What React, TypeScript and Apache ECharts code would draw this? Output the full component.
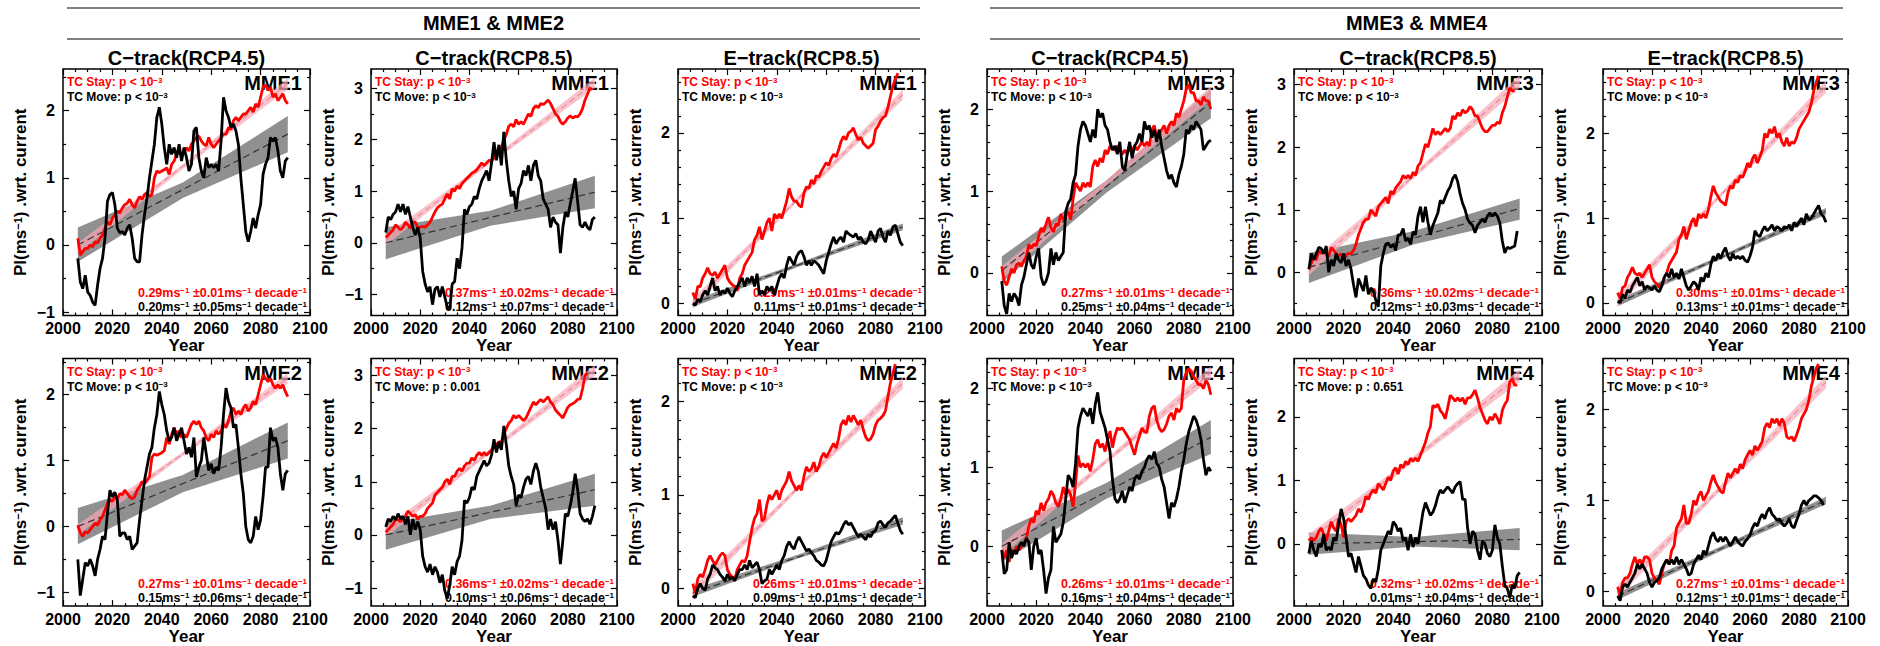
import React, { useEffect, useRef } from "react";
import * as echarts from "echarts";

const FONT = "'Liberation Sans', Arial, Helvetica, sans-serif";
const RED = "#ff0000";

// ---- categories / axes ----
const years = Array.from({ length: 86 }, (_, i) => 2006 + i); // 2006..2091
const trendYears = [2006, 2091];
const bandYears = [2006, 2048.5, 2091];
const groupTitles = ["MME1 & MME2", "MME3 & MME4"];
const columnTitles = ["C−track(RCP4.5)", "C−track(RCP8.5)", "E−track(RCP8.5)"];
const mmeLabels = ["MME1", "MME1", "MME1", "MME3", "MME3", "MME3", "MME2", "MME2", "MME2", "MME4", "MME4", "MME4"];
const yMins = [-1.05, -1.41, -0.14, -0.52, -0.69, -0.15, -1.21, -1.34, -0.19, -0.76, -0.98, -0.16];
const yMaxs = [2.62, 3.37, 2.75, 2.49, 3.25, 2.76, 2.55, 3.32, 2.46, 2.38, 2.92, 2.56];
const yMinorSteps = [0.5, 0.5, 0.2, 0.2, 0.5, 0.2, 0.5, 0.5, 0.2, 0.2, 0.5, 0.2];

// ---- significance / trend texts ----
const movePTexts = ["<", "<", "<", "<", "<", "<", "<", ": 0.001", "<", "<", ": 0.651", "<"];
const stayRates = ["0.29", "0.37", "0.29", "0.27", "0.36", "0.30", "0.27", "0.36", "0.26", "0.26", "0.32", "0.27"];
const stayErrs = ["0.01", "0.02", "0.01", "0.01", "0.02", "0.01", "0.01", "0.02", "0.01", "0.01", "0.02", "0.01"];
const moveRates = ["0.20", "0.12", "0.11", "0.25", "0.12", "0.13", "0.15", "0.10", "0.09", "0.16", "0.01", "0.12"];
const moveErrs = ["0.05", "0.07", "0.01", "0.04", "0.03", "0.01", "0.06", "0.06", "0.01", "0.04", "0.04", "0.01"];

// ---- series values (yearly from 2006) ----
const mme1C45Stay = [
  0.1, -0.15, -0.1, -0.05, -0.05, 0.0, -0.03, 0.05, 0.03, 0.1,
  0.15, 0.25, 0.35, 0.3, 0.4, 0.45, 0.5, 0.48, 0.55, 0.6,
  0.62, 0.68, 0.6, 0.55, 0.65, 0.72, 0.68, 0.75, 0.78, 0.72,
  0.75, 1.0, 1.1, 1.08, 1.1, 1.12, 1.15, 1.05, 1.2, 1.25,
  1.35, 1.4, 1.32, 1.38, 1.45, 1.4, 1.5, 1.55, 1.6, 1.62,
  1.55, 1.5, 1.48, 1.6, 1.5, 1.45, 1.5, 1.55, 1.6, 1.65,
  1.65, 1.75, 1.72, 1.85, 1.9, 1.85, 1.9, 1.95, 1.95, 2.0,
  2.05, 1.98, 2.1, 2.05, 2.2, 2.35, 2.38, 2.3, 2.35, 2.2,
  2.25, 2.15, 2.2, 2.25, 2.15, 2.1,
];
const mme1C45Move = [
  -0.2, -0.55, -0.65, -0.45, -0.7, -0.75, -0.85, -0.9, -0.6, -0.35,
  -0.2, 0.1, 0.65, 0.75, 0.78, 0.6, 0.25, 0.18, 0.2, 0.15,
  0.25, 0.3, 0.1, -0.2, -0.25, -0.25, 0.15, 0.45, 0.7, 1.0,
  1.25, 1.5, 1.9, 2.05, 1.8, 1.45, 1.2, 1.5, 1.35, 1.45,
  1.3, 1.5, 1.25, 1.45, 1.3, 1.1, 1.2, 1.7, 1.75, 1.3,
  1.1, 1.0, 1.3, 1.15, 1.2, 1.15, 1.2, 1.1, 1.55, 2.2,
  2.0, 1.9, 1.75, 1.8, 1.7, 1.5, 1.0, 0.6, 0.2, 0.05,
  0.2, 0.4, 0.25, 0.45, 0.6, 1.05, 1.2, 1.3, 1.6, 1.55,
  1.6, 1.4, 1.1, 1.0, 1.25, 1.3,
];
const mme1C85Stay = [
  0.1, 0.15, 0.2, 0.25, 0.35, 0.3, 0.25, 0.3, 0.4, 0.35,
  0.28, 0.4, 0.4, 0.3, 0.3, 0.32, 0.3, 0.35, 0.4, 0.5,
  0.6, 0.68, 0.72, 0.75, 0.85, 0.95, 0.85, 1.05, 1.0, 1.1,
  1.05, 1.15, 1.2, 1.25, 1.3, 1.35, 1.38, 1.42, 1.48, 1.55,
  1.5, 1.55, 1.6, 1.58, 1.65, 1.74, 1.8, 1.85, 2.0, 2.1,
  2.26, 2.3, 2.25, 2.39, 2.3, 2.35, 2.3, 2.4, 2.5, 2.45,
  2.6, 2.66, 2.62, 2.7, 2.68, 2.72, 2.77, 2.7, 2.6, 2.5,
  2.45, 2.35, 2.3, 2.35, 2.42, 2.46, 2.42, 2.45, 2.44, 2.5,
  2.6, 2.77, 2.88, 3.0, 2.97,
];
const mme1C85Move = [
  0.2, 0.5, 0.45, 0.55, 0.6, 0.75, 0.6, 0.75, 0.55, 0.7,
  0.5, 0.3, 0.15, 0.3, 0.1, -0.55, -0.8, -0.95, -0.85, -1.2,
  -0.9, -0.85, -1.05, -0.85, -1.05, -1.25, -1.3, -0.8, -0.75, -0.3,
  -0.5, -0.1, 0.65, 0.55, 0.7, 0.75, 0.9, 0.85, 1.05, 1.2,
  1.3, 1.4, 1.2, 1.55, 1.95, 1.6, 1.9, 1.5, 2.15, 1.6,
  1.2, 0.9, 1.0, 0.65, 1.05, 1.15, 1.4, 1.3, 1.5, 1.2,
  1.5, 1.6, 1.3, 1.2, 0.85, 0.75, 0.65, 0.3, 0.5, 0.4,
  0.35, -0.2, 0.3, 0.6, 0.5, 0.75, 1.0, 1.25, 0.8, 0.35,
  0.3, 0.4, 0.3, 0.25, 0.45, 0.5,
];
const mme1E85Stay = [
  0.13, 0.05, 0.2, 0.2, 0.3, 0.35, 0.42, 0.35, 0.33, 0.37,
  0.3, 0.35, 0.4, 0.45, 0.3, 0.25, 0.22, 0.2, 0.15, 0.3,
  0.35, 0.45, 0.5, 0.55, 0.6, 0.75, 0.8, 0.9, 0.75, 0.85,
  0.95, 1.0, 0.85, 1.05, 1.0, 1.05, 1.0, 1.1, 1.2, 1.35,
  1.25, 1.2, 1.2, 1.15, 1.13, 1.3, 1.37, 1.35, 1.45, 1.4,
  1.5, 1.48, 1.55, 1.6, 1.65, 1.62, 1.7, 1.75, 1.72, 1.8,
  1.9, 1.96, 1.92, 2.0, 2.02, 2.06, 1.98, 1.92, 1.95, 1.88,
  1.85, 1.82, 1.85, 1.88, 2.04, 2.08, 2.14, 2.18, 2.2, 2.3,
  2.43, 2.55, 2.63, 2.7,
];
const mme1E85Move = [
  0.0, -0.02, 0.05, 0.02, 0.1, 0.15, 0.1, 0.2, 0.3, 0.15,
  0.2, 0.1, 0.15, 0.12, 0.18, 0.12, 0.08, 0.15, 0.2, 0.25,
  0.3, 0.2, 0.3, 0.25, 0.32, 0.2, 0.35, 0.1, 0.15, 0.1,
  0.2, 0.15, 0.2, 0.1, 0.2, 0.3, 0.35, 0.3, 0.45, 0.55,
  0.5, 0.45, 0.55, 0.6, 0.62, 0.55, 0.45, 0.5, 0.45, 0.5,
  0.48, 0.45, 0.4, 0.35, 0.5, 0.6, 0.7, 0.78, 0.7, 0.75,
  0.78, 0.72, 0.85, 0.82, 0.8, 0.78, 0.82, 0.75, 0.78, 0.72,
  0.7, 0.75, 0.85, 0.78, 0.72, 0.85, 0.88, 0.78, 0.72, 0.85,
  0.8, 0.9, 0.92, 0.82, 0.72, 0.68,
];
const mme3C45Stay = [
  0.08, -0.1, -0.15, -0.05, 0.05, 0.0, 0.1, 0.12, 0.08, 0.15,
  0.2, 0.35, 0.3, 0.35, 0.33, 0.45, 0.55, 0.5, 0.6, 0.68,
  0.55, 0.5, 0.6, 0.58, 0.72, 0.65, 0.7, 0.75, 0.65, 0.9,
  1.1, 1.05, 1.0, 1.1, 1.05, 1.1, 1.05, 1.3, 1.38, 1.3,
  1.4, 1.35, 1.5, 1.45, 1.55, 1.52, 1.5, 1.55, 1.5, 1.45,
  1.5, 1.45, 1.55, 1.5, 1.55, 1.5, 1.55, 1.6, 1.55, 1.6,
  1.55, 1.75, 1.8, 1.65, 1.7, 1.75, 1.8, 1.7, 1.8, 1.85,
  1.8, 1.95, 1.9, 2.0, 2.1, 2.25, 2.3, 2.2, 2.2, 2.1,
  2.1, 2.05, 2.15, 2.1, 2.1, 2.0,
];
const mme3C45Move = [
  -0.1, -0.4, -0.5, -0.25, -0.35, -0.25, -0.3, -0.4, -0.15, -0.05,
  0.1, 0.25, 0.1, 0.05, 0.2, 0.3, -0.05, -0.15, -0.1, 0.0,
  0.3, 0.1, 0.25, 0.15, 0.2, 0.25, 0.75, 0.85, 0.9, 1.1,
  1.2, 1.55, 1.75, 1.85, 1.8, 1.7, 1.6, 1.75, 1.65, 2.0,
  1.9, 1.95, 1.8, 1.75, 1.6, 1.5, 1.55, 1.45, 1.6, 1.3,
  1.25, 1.45, 1.6, 1.4, 1.55, 1.6, 1.7, 1.6, 1.85, 1.75,
  1.8, 1.65, 1.75, 1.6, 1.75, 1.55, 1.4, 1.25, 1.15, 1.2,
  1.1, 1.05, 1.2, 1.3, 1.45, 1.75, 1.7, 1.8, 1.75, 1.85,
  1.8, 1.75, 1.5, 1.55, 1.6, 1.62,
];
const mme3C85Stay = [
  0.05, 0.15, 0.25, 0.2, 0.35, 0.3, 0.35, 0.3, 0.25, 0.4,
  0.35, 0.3, 0.25, 0.3, 0.2, 0.28, 0.3, 0.3, 0.35, 0.45,
  0.6, 0.7, 0.8, 0.85, 0.85, 1.0, 0.95, 0.9, 1.05, 1.1,
  1.15, 1.2, 1.1, 1.3, 1.25, 1.35, 1.4, 1.45, 1.55, 1.5,
  1.55, 1.5, 1.6, 1.55, 1.7, 1.75, 1.9, 2.05, 2.0, 2.15,
  2.3, 2.2, 2.25, 2.2, 2.25, 2.3, 2.25, 2.3, 2.5, 2.45,
  2.55, 2.5, 2.6, 2.55, 2.58, 2.65, 2.6, 2.5, 2.5, 2.4,
  2.3, 2.25, 2.25, 2.3, 2.35, 2.35, 2.4, 2.38, 2.55, 2.65,
  2.8, 2.95, 2.9, 2.9,
];
const mme3C85Move = [
  0.05, 0.3, 0.2, 0.3, 0.4, 0.38, 0.3, 0.42, 0.0, 0.2,
  0.1, 0.3, 0.2, 0.15, 0.3, 0.1, 0.2, 0.05, -0.2, -0.4,
  -0.1, -0.2, -0.3, -0.05, -0.35, -0.25, -0.3, -0.45, -0.55, 0.1,
  0.3, 0.45, 0.47, 0.4, 0.45, 0.35, 0.6, 0.6, 0.7, 0.5,
  0.55, 0.45, 0.65, 0.6, 0.9, 1.05, 0.8, 1.05, 0.8, 0.6,
  0.75, 0.85, 0.95, 1.15, 1.1, 1.2, 1.3, 1.37, 1.5, 1.56,
  1.45, 1.25, 1.1, 1.0, 0.85, 0.79, 0.75, 0.63, 0.75, 0.8,
  0.85, 0.8, 0.9, 0.95, 0.9, 0.95, 0.9, 0.79, 0.5, 0.31,
  0.4, 0.38, 0.4, 0.42, 0.66,
];
const mme3E85Stay = [
  0.12, 0.05, 0.18, 0.2, 0.3, 0.35, 0.42, 0.35, 0.33, 0.35,
  0.3, 0.35, 0.4, 0.45, 0.3, 0.25, 0.22, 0.18, 0.2, 0.3,
  0.35, 0.45, 0.5, 0.55, 0.6, 0.75, 0.8, 0.9, 0.75, 0.85,
  0.95, 1.0, 0.9, 1.05, 1.0, 1.05, 1.0, 1.1, 1.25, 1.38,
  1.3, 1.25, 1.2, 1.18, 1.15, 1.3, 1.38, 1.35, 1.45, 1.42,
  1.5, 1.48, 1.55, 1.65, 1.6, 1.7, 1.75, 1.65, 1.72, 1.8,
  2.0, 1.95, 2.05, 2.0, 2.08, 1.95, 2.0, 1.9, 1.85, 1.95,
  1.85, 1.9, 1.88, 1.95, 2.05, 2.1, 2.15, 2.2, 2.25, 2.35,
  2.5, 2.6, 2.68,
];
const mme3E85Move = [
  0.02, 0.0, 0.1, 0.05, 0.15, 0.12, 0.2, 0.25, 0.3, 0.2,
  0.25, 0.15, 0.2, 0.18, 0.15, 0.2, 0.15, 0.13, 0.2, 0.3,
  0.35, 0.3, 0.4, 0.3, 0.35, 0.28, 0.4, 0.3, 0.2, 0.15,
  0.2, 0.25, 0.22, 0.15, 0.3, 0.25, 0.35, 0.3, 0.45, 0.55,
  0.5, 0.58, 0.52, 0.6, 0.65, 0.55, 0.5, 0.58, 0.52, 0.55,
  0.52, 0.55, 0.5, 0.48, 0.55, 0.65, 0.85, 0.8, 0.78, 0.85,
  0.9, 0.85, 0.88, 0.92, 0.85, 0.9, 0.88, 0.85, 0.9, 0.88,
  0.92, 0.85, 0.95, 0.9, 0.95, 1.0, 0.92, 1.05, 0.98, 1.0,
  1.05, 1.1, 1.15, 1.05, 1.02, 0.95,
];
const mme2C45Stay = [
  0.02, -0.1, -0.15, -0.08, -0.1, -0.05, 0.0, 0.05, 0.02, 0.1,
  0.15, 0.25, 0.35, 0.4, 0.38, 0.45, 0.42, 0.5, 0.48, 0.55,
  0.5, 0.45, 0.42, 0.45, 0.55, 0.6, 0.68, 0.65, 0.7, 0.75,
  1.05, 1.1, 1.08, 1.1, 1.12, 1.15, 1.35, 1.25, 1.4, 1.5,
  1.4, 1.45, 1.35, 1.4, 1.35, 1.45, 1.55, 1.6, 1.55, 1.6,
  1.5, 1.45, 1.35, 1.3, 1.4, 1.35, 1.45, 1.4, 1.45, 1.55,
  1.5, 1.6, 1.75, 1.8, 1.7, 1.75, 1.7, 1.8, 1.85, 1.75,
  1.8, 1.9, 1.85, 2.0, 2.15, 2.3, 2.25, 2.2, 2.25, 2.15,
  2.1, 2.15, 2.1, 2.15, 2.05, 1.97,
];
const mme2C45Move = [
  -0.5, -1.05, -0.8, -0.55, -0.6, -0.5, -0.6, -0.75, -0.5, -0.35,
  -0.15, -0.2, 0.2, 0.55, 0.45, 0.52, 0.4, -0.15, -0.1, -0.1,
  -0.2, -0.15, -0.35, -0.3, -0.25, 0.1, 0.4, 0.7, 0.9, 1.1,
  1.2, 1.5, 1.7, 2.05, 1.85, 1.7, 1.45, 1.3, 1.35, 1.5,
  1.3, 1.4, 1.5, 1.3, 1.1, 1.2, 1.05, 1.35, 0.75, 0.9,
  1.0, 1.35, 1.1, 0.85, 0.95, 0.8, 0.9, 0.85, 1.2, 1.7,
  2.1, 1.9, 1.8, 1.5, 1.55, 1.2, 0.8, 0.5, 0.0, -0.2,
  -0.25, -0.15, 0.15, -0.05, 0.1, 0.45, 0.9, 0.9, 1.5, 1.3,
  1.35, 1.2, 0.8, 0.55, 0.8, 0.85,
];
const mme2C85Stay = [
  0.05, 0.1, 0.15, 0.2, 0.3, 0.28, 0.25, 0.3, 0.35, 0.45,
  0.4, 0.35, 0.38, 0.3, 0.35, 0.35, 0.4, 0.5, 0.55, 0.6,
  0.75, 0.8, 0.85, 0.9, 1.0, 1.05, 0.95, 1.1, 1.1, 1.2,
  1.25, 1.2, 1.3, 1.35, 1.35, 1.45, 1.4, 1.5, 1.55, 1.5,
  1.55, 1.5, 1.55, 1.6, 1.65, 1.7, 1.75, 1.75, 1.9, 2.0,
  2.1, 2.15, 2.25, 2.2, 2.25, 2.2, 2.15, 2.2, 2.3, 2.4,
  2.5, 2.45, 2.5, 2.55, 2.5, 2.55, 2.6, 2.5, 2.45, 2.35,
  2.3, 2.25, 2.2, 2.3, 2.4, 2.45, 2.47, 2.5, 2.55, 2.56,
  2.75, 3.0, 3.05,
];
const mme2C85Move = [
  0.15, 0.3, 0.25, 0.35, 0.28, 0.4, 0.3, 0.35, 0.2, 0.35,
  0.0, 0.3, 0.1, 0.25, 0.1, -0.4, -0.6, -0.7, -0.55, -0.75,
  -0.6, -0.7, -0.9, -0.75, -1.05, -1.2, -0.95, -0.6, -0.75, -0.5,
  -0.4, -0.1, 0.65, 0.6, 0.7, 0.9, 0.85, 1.1, 1.2, 1.3,
  1.4, 1.3, 1.35, 1.5, 1.8, 1.55, 1.75, 1.6, 2.05, 1.7,
  1.3, 1.1, 0.95, 0.55, 0.75, 0.7, 0.9, 1.05, 1.1, 0.95,
  1.2, 1.35, 1.2, 0.9, 0.7, 0.5, 0.1, 0.3, 0.1, 0.25,
  -0.1, -0.55, -0.1, 0.4, 0.35, 0.55, 0.8, 1.15, 0.85, 0.4,
  0.3, 0.25, 0.3, 0.2, 0.35, 0.55,
];
const mme2E85Stay = [
  0.05, -0.05, 0.1, 0.15, 0.12, 0.2, 0.3, 0.35, 0.3, 0.25,
  0.3, 0.35, 0.38, 0.35, 0.2, 0.15, 0.12, 0.1, 0.2, 0.25,
  0.3, 0.28, 0.35, 0.5, 0.65, 0.75, 0.8, 0.95, 0.72, 0.75,
  0.9, 1.0, 0.95, 1.0, 1.05, 0.95, 1.05, 1.1, 1.15, 1.25,
  1.15, 1.1, 1.05, 1.1, 1.05, 1.2, 1.3, 1.25, 1.28, 1.35,
  1.25, 1.3, 1.4, 1.45, 1.4, 1.45, 1.5, 1.55, 1.5, 1.6,
  1.75, 1.8, 1.75, 1.85, 1.78, 1.85, 1.8, 1.75, 1.8, 1.7,
  1.62, 1.58, 1.6, 1.65, 1.75, 1.8, 1.82, 1.85, 1.9, 2.05,
  2.2, 2.3, 2.4,
];
const mme2E85Move = [
  -0.08, -0.1, 0.0, 0.05, 0.0, -0.02, 0.1, 0.15, 0.25, 0.22,
  0.2, 0.15, 0.12, 0.08, 0.15, 0.1, 0.12, 0.08, 0.15, 0.2,
  0.2, 0.25, 0.2, 0.3, 0.22, 0.25, 0.28, 0.2, 0.05, 0.08,
  0.1, 0.2, 0.15, 0.2, 0.25, 0.2, 0.3, 0.35, 0.45, 0.5,
  0.45, 0.42, 0.5, 0.55, 0.5, 0.45, 0.4, 0.42, 0.38, 0.35,
  0.3, 0.28, 0.25, 0.24, 0.3, 0.4, 0.5, 0.55, 0.6, 0.58,
  0.62, 0.68, 0.72, 0.68, 0.7, 0.65, 0.6, 0.55, 0.58, 0.55,
  0.52, 0.58, 0.55, 0.6, 0.62, 0.7, 0.72, 0.68, 0.65, 0.7,
  0.72, 0.75, 0.78, 0.7, 0.62, 0.58,
];
const mme4C45Stay = [
  -0.05, -0.15, -0.05, -0.2, -0.05, -0.1, 0.0, -0.05, 0.0, 0.05,
  0.1, 0.25, 0.35, 0.3, 0.45, 0.4, 0.55, 0.45, 0.55, 0.6,
  0.7, 0.65, 0.55, 0.5, 0.6, 0.75, 0.65, 0.72, 0.65, 0.5,
  0.8, 1.15, 1.0, 1.05, 1.0, 1.05, 0.95, 1.1, 1.3, 1.35,
  1.25, 1.3, 1.2, 1.35, 1.46, 1.25, 1.4, 1.5, 1.48, 1.5,
  1.45, 1.4, 1.35, 1.25, 1.16, 1.3, 1.4, 1.5, 1.45, 1.44,
  1.65, 1.75, 1.78, 1.6, 1.5, 1.45, 1.48, 1.55, 1.65, 1.69,
  1.6, 1.75, 1.7, 1.75, 2.11, 2.2, 2.25, 2.22, 2.15, 2.1,
  2.05, 2.05, 2.0, 2.1, 2.05, 1.92,
];
const mme4C45Move = [
  -0.05, -0.35, -0.3, 0.05, -0.15, -0.05, -0.1, 0.0, 0.05, 0.0,
  0.1, 0.05, -0.3, 0.0, 0.1, -0.1, -0.05, -0.3, -0.6, -0.4,
  -0.3, 0.25, 0.05, 0.1, 0.15, 0.3, 0.6, 0.9, 0.85, 0.75,
  1.05, 1.5, 1.65, 1.75, 1.7, 1.65, 1.75, 1.55, 1.8, 1.95,
  1.7, 1.6, 1.5, 1.35, 1.2, 0.85, 0.6, 0.55, 0.6, 0.7,
  0.55, 0.65, 0.75, 0.7, 0.85, 0.9, 0.85, 0.95, 1.0, 1.1,
  1.15, 1.1, 1.2, 1.05, 1.0, 0.85, 0.75, 0.55, 0.35, 0.55,
  0.5, 0.6, 0.75, 0.95, 1.1, 1.3, 1.45, 1.55, 1.65, 1.6,
  1.5, 1.35, 1.1, 0.9, 1.0, 0.95,
];
const mme4C85Stay = [
  0.05, 0.1, 0.05, 0.1, 0.2, 0.25, 0.15, 0.05, 0.2, 0.35,
  0.25, 0.2, 0.4, 0.3, 0.1, 0.35, 0.4, 0.35, 0.4, 0.45,
  0.55, 0.5, 0.6, 0.75, 0.7, 0.8, 0.85, 0.8, 0.95, 0.9,
  0.85, 0.95, 1.05, 1.0, 1.15, 1.2, 1.1, 1.25, 1.2, 1.3,
  1.25, 1.35, 1.3, 1.35, 1.3, 1.4, 1.5, 1.6, 1.75, 1.85,
  2.18, 2.15, 2.2, 2.1, 2.05, 1.97, 2.15, 2.34, 2.3, 2.25,
  2.3, 2.25, 2.3, 2.2, 2.3, 2.3, 2.35, 2.42, 2.3, 2.15,
  2.05, 1.95, 1.89, 2.0, 1.95, 2.05, 1.98, 1.89, 2.1, 2.2,
  2.26, 2.55, 2.6, 2.5, 2.5,
];
const mme4C85Move = [
  -0.15, 0.05, -0.1, -0.2, 0.0, -0.05, 0.15, -0.1, -0.05, -0.1,
  0.1, 0.05, 0.3, 0.55, 0.4, 0.1, -0.2, -0.15, -0.3, -0.45,
  -0.2, -0.35, -0.5, -0.55, -0.65, -0.7, -0.55, -0.6, -0.4, -0.1,
  0.0, 0.1, 0.2, 0.15, 0.35, 0.3, 0.2, 0.25, 0.05, 0.1,
  -0.1, 0.15, -0.05, 0.1, 0.0, 0.25, 0.5, 0.65, 0.55, 0.45,
  0.5, 0.6, 0.75, 0.85, 0.8, 0.85, 0.9, 0.85, 0.8, 0.9,
  0.95, 0.98, 0.7, 0.7, 0.25, 0.0, 0.2, 0.15, -0.1, -0.25,
  0.05, 0.0, -0.15, -0.2, -0.1, 0.3, 0.1, 0.0, -0.35, -0.65,
  -0.7, -0.85, -0.65, -0.7, -0.5, -0.45,
];
const mme4E85Stay = [
  0.05, -0.05, 0.1, 0.15, 0.15, 0.2, 0.3, 0.38, 0.3, 0.35,
  0.3, 0.38, 0.38, 0.35, 0.2, 0.15, 0.12, 0.08, 0.2, 0.3,
  0.35, 0.3, 0.45, 0.5, 0.7, 0.75, 0.8, 0.95, 0.75, 0.75,
  0.85, 1.0, 0.95, 1.05, 1.1, 1.0, 1.05, 1.1, 1.2, 1.28,
  1.2, 1.15, 1.1, 1.08, 1.2, 1.3, 1.25, 1.3, 1.35, 1.3,
  1.4, 1.35, 1.45, 1.5, 1.55, 1.5, 1.6, 1.55, 1.6, 1.65,
  1.8, 1.85, 1.8, 1.9, 1.85, 1.9, 1.82, 1.9, 1.85, 1.7,
  1.68, 1.7, 1.65, 1.72, 1.8, 1.9, 1.95, 2.0, 2.1, 2.25,
  2.35, 2.45, 2.5,
];
const mme4E85Move = [
  -0.05, -0.1, 0.05, 0.08, 0.05, 0.1, 0.15, 0.2, 0.3, 0.25,
  0.3, 0.25, 0.2, 0.1, 0.05, 0.1, 0.12, 0.15, 0.25, 0.3,
  0.35, 0.3, 0.35, 0.3, 0.38, 0.3, 0.35, 0.3, 0.25, 0.18,
  0.2, 0.3, 0.35, 0.4, 0.35, 0.45, 0.4, 0.5, 0.6, 0.65,
  0.58, 0.55, 0.6, 0.55, 0.6, 0.55, 0.5, 0.55, 0.6, 0.55,
  0.52, 0.5, 0.55, 0.58, 0.62, 0.7, 0.75, 0.72, 0.8, 0.85,
  0.8, 0.88, 0.92, 0.85, 0.82, 0.78, 0.8, 0.75, 0.72, 0.75,
  0.8, 0.72, 0.7, 0.78, 0.85, 0.95, 1.0, 0.95, 1.0, 1.02,
  1.05, 1.05, 1.03, 1.0, 0.95,
];

// ---- trend lines (value at 2006, 2091) ----
const stayTrends = [
  [-0.05, 2.4], [0.05, 3.1], [0.0, 2.45], [0.0, 2.2], [0.05, 3.05], [0.02, 2.55],
  [-0.05, 2.25], [0.05, 3.1], [-0.05, 2.2], [-0.05, 2.2], [0.05, 2.65], [0.0, 2.3],
];
const moveTrends = [
  [0.0, 1.65], [0.0, 0.98], [0.0, 0.9], [0.03, 2.08], [0.08, 1.02], [0.0, 1.08],
  [0.0, 1.3], [0.0, 0.85], [-0.05, 0.72], [0.0, 1.38], [0.0, 0.07], [-0.05, 1.0],
];
// ---- confidence bands [lo, hi] at 2006, 2048.5, 2091 ----
const stayBands = [
  [[-0.13, 0.03], [1.13, 1.2], [2.32, 2.48]],
  [[-0.05, 0.15], [1.54, 1.62], [3.0, 3.2]],
  [[-0.06, 0.06], [1.2, 1.25], [2.39, 2.51]],
  [[-0.08, 0.08], [1.07, 1.13], [2.12, 2.28]],
  [[-0.05, 0.15], [1.51, 1.59], [2.95, 3.15]],
  [[-0.05, 0.09], [1.26, 1.31], [2.48, 2.62]],
  [[-0.13, 0.03], [1.07, 1.13], [2.17, 2.33]],
  [[-0.05, 0.15], [1.54, 1.62], [3.0, 3.2]],
  [[-0.11, 0.01], [1.05, 1.1], [2.14, 2.26]],
  [[-0.13, 0.03], [1.05, 1.11], [2.12, 2.28]],
  [[-0.05, 0.15], [1.31, 1.39], [2.55, 2.75]],
  [[-0.07, 0.07], [1.12, 1.18], [2.23, 2.37]],
];
const moveBands = [
  [[-0.25, 0.26], [0.7, 0.93], [1.38, 1.92]],
  [[-0.32, 0.3], [0.33, 0.62], [0.67, 1.3]],
  [[-0.04, 0.04], [0.43, 0.47], [0.86, 0.94]],
  [[-0.12, 0.2], [0.98, 1.13], [1.89, 2.25]],
  [[-0.17, 0.31], [0.45, 0.66], [0.84, 1.18]],
  [[-0.04, 0.04], [0.52, 0.56], [1.04, 1.12]],
  [[-0.27, 0.28], [0.52, 0.78], [1.03, 1.58]],
  [[-0.28, 0.22], [0.3, 0.55], [0.55, 1.15]],
  [[-0.09, -0.01], [0.32, 0.36], [0.68, 0.76]],
  [[-0.2, 0.2], [0.6, 0.8], [1.17, 1.6]],
  [[-0.17, 0.18], [-0.04, 0.11], [-0.1, 0.25]],
  [[-0.09, -0.01], [0.45, 0.5], [0.96, 1.04]],
];

const stayValues = [mme1C45Stay, mme1C85Stay, mme1E85Stay, mme3C45Stay, mme3C85Stay, mme3E85Stay,
  mme2C45Stay, mme2C85Stay, mme2E85Stay, mme4C45Stay, mme4C85Stay, mme4E85Stay];
const moveValues = [mme1C45Move, mme1C85Move, mme1E85Move, mme3C45Move, mme3C85Move, mme3E85Move,
  mme2C45Move, mme2C85Move, mme2E85Move, mme4C45Move, mme4C85Move, mme4E85Move];

// ---- layout (pixels) ----
const colLefts = [63, 371, 678, 987, 1294, 1603];
const colWidths = [247, 246, 247, 246, 248, 245];
const rowTops = [69, 358.5];
const rowHeights = [246.5, 248.5];

function tickValues(min: number, max: number, step: number) {
  const out: number[] = [];
  const s = Math.ceil(min / step - 1e-9);
  const e = Math.floor(max / step + 1e-9);
  for (let i = s; i <= e; i++) out.push(+(i * step).toFixed(4));
  return out;
}
const fmtNum = (v: number) => (v < 0 ? "−" + Math.abs(v) : String(v));
const fmtYear = (v: number) => String(Math.round(v));

function buildOption() {
  const grid: any[] = [];
  const xAxis: any[] = [];
  const yAxis: any[] = [];
  const series: any[] = [];
  const graphic: any[] = [];
  const tickLine = { color: "#000", width: 1.2 };

  for (let k = 0; k < 12; k++) {
    const row = Math.floor(k / 6);
    const col = k % 6;
    const left = colLefts[col];
    const top = rowTops[row];
    const width = colWidths[col];
    const height = rowHeights[row];
    grid.push({ left, top, width, height, show: true, borderColor: "#000", borderWidth: 1.5, backgroundColor: "transparent" });

    const baseX = {
      type: "value", gridIndex: k, min: 2000, max: 2100, interval: 20,
      splitLine: { show: false },
      axisLine: { show: false, onZero: false },
      axisTick: { inside: true, length: 6, lineStyle: tickLine },
      minorTick: { show: true, splitNumber: 4, length: 3, lineStyle: tickLine },
    };
    xAxis.push({
      ...baseX, position: "bottom",
      axisLabel: { formatter: fmtYear, fontFamily: FONT, fontWeight: "bold", fontSize: 16, color: "#000", margin: 5 },
      name: "Year", nameLocation: "middle", nameGap: 20,
      nameTextStyle: { fontFamily: FONT, fontWeight: "bold", fontSize: 17, color: "#000" },
    });
    xAxis.push({ ...baseX, position: "top", axisLabel: { show: false } });

    const min = yMins[k], max = yMaxs[k];
    const majors = tickValues(min, max, 1);
    const minors = tickValues(min, max, yMinorSteps[k]).filter((v) => Math.abs(v - Math.round(v)) > 1e-6);
    const baseY = {
      type: "value", gridIndex: k, min, max,
      splitLine: { show: false },
      axisLine: { show: false, onZero: false },
    };
    yAxis.push({
      ...baseY, position: "left",
      axisTick: { inside: true, length: 6, lineStyle: tickLine, customValues: majors },
      axisLabel: { customValues: majors, formatter: fmtNum, fontFamily: FONT, fontWeight: "bold", fontSize: 16, color: "#000", margin: 8 },
      name: "PI(ms{sup|−1}) .wrt. current", nameLocation: "middle", nameRotate: 90, nameGap: 34,
      nameTextStyle: {
        fontFamily: FONT, fontWeight: "bold", fontSize: 17, color: "#000",
        rich: { sup: { fontFamily: FONT, fontWeight: "bold", fontSize: 11, color: "#000", verticalAlign: "top" } },
      },
    });
    yAxis.push({ ...baseY, position: "left", axisTick: { inside: true, length: 3, lineStyle: tickLine, customValues: minors }, axisLabel: { show: false } });
    yAxis.push({ ...baseY, position: "right", axisTick: { inside: true, length: 6, lineStyle: tickLine, customValues: majors }, axisLabel: { show: false } });
    yAxis.push({ ...baseY, position: "right", axisTick: { inside: true, length: 3, lineStyle: tickLine, customValues: minors }, axisLabel: { show: false } });

    const xi = 2 * k, yi = 4 * k;
    const band = (vals: number[][], color: string, opacity: number, z: number) => {
      const pts = bandYears.map((x, i) => [x, vals[i][0], vals[i][1]]);
      return {
        type: "custom", xAxisIndex: xi, yAxisIndex: yi, z, silent: true, data: pts,
        encode: { x: 0, y: [1, 2] },
        renderItem: (params: any, api: any) => {
          if (params.dataIndex !== 0) return null;
          const upper = pts.map((p) => api.coord([p[0], p[2]]));
          const lower = pts.map((p) => api.coord([p[0], p[1]])).reverse();
          return { type: "polygon", shape: { points: upper.concat(lower) }, style: { fill: color, opacity } };
        },
      };
    };
    series.push(band(moveBands[k], "#8a8a8a", 0.95, 2));
    series.push(band(stayBands[k], "#f7a9b6", 0.7, 2));
    series.push({
      type: "line", xAxisIndex: xi, yAxisIndex: yi, z: 3, silent: true, symbol: "none",
      data: trendYears.map((x, i) => [x, stayTrends[k][i]]),
      lineStyle: { color: "#f0899a", width: 1.2, type: [6, 4] },
    });
    series.push({
      type: "line", xAxisIndex: xi, yAxisIndex: yi, z: 3, silent: true, symbol: "none",
      data: trendYears.map((x, i) => [x, moveTrends[k][i]]),
      lineStyle: { color: "#333", width: 1.2, type: [7, 4] },
    });
    series.push({
      type: "line", xAxisIndex: xi, yAxisIndex: yi, z: 4, silent: true, symbol: "none",
      data: stayValues[k].map((v, i) => [years[i], v]),
      lineStyle: { color: RED, width: 2.8 },
    });
    series.push({
      type: "line", xAxisIndex: xi, yAxisIndex: yi, z: 5, silent: true, symbol: "none",
      data: moveValues[k].map((v, i) => [years[i], v]),
      lineStyle: { color: "#000", width: 2.8 },
    });

    // annotations
    const supRich = (c: string, fs: number) => ({ sup: { fontFamily: FONT, fontWeight: "bold", fontSize: fs, fill: c, color: c, verticalAlign: "top" } });
    const txt = (x: number, y: number, text: string, fill: string, fontSize: number, align: string, supSize: number) => ({
      type: "text", x, y, z: 1, silent: true,
      style: {
        text, fill, fontFamily: FONT, fontWeight: "bold", fontSize,
        align, textAlign: align, verticalAlign: "middle", textVerticalAlign: "middle",
        rich: supRich(fill, supSize),
      },
    });
    graphic.push(txt(left + width - 8, top + 14, mmeLabels[k], "#000", 20, "right", 12));
    graphic.push(txt(left + 4, top + 13, "TC Stay: p < 10{sup|−3}", RED, 12, "left", 8));
    const mp = movePTexts[k];
    graphic.push(txt(left + 4, top + 28, mp === "<" ? "TC Move: p < 10{sup|−3}" : "TC Move: p " + mp, "#000", 12, "left", 8));
    graphic.push(txt(left + width - 3, top + height - 23, `${stayRates[k]}ms{sup|−1} ±${stayErrs[k]}ms{sup|−1} decade{sup|−1}`, RED, 12.5, "right", 8));
    graphic.push(txt(left + width - 3, top + height - 9, `${moveRates[k]}ms{sup|−1} ±${moveErrs[k]}ms{sup|−1} decade{sup|−1}`, "#000", 12.5, "right", 8));
    if (row === 0) {
      graphic.push(txt(left + width / 2, 58, columnTitles[col % 3], "#000", 20, "center", 12));
    }
  }

  // group headers
  const groupSpans = [[67, 920], [990, 1843]];
  groupSpans.forEach(([a, b], g) => {
    graphic.push({ type: "line", z: 1, silent: true, shape: { x1: a, y1: 8, x2: b, y2: 8 }, style: { stroke: "#000", lineWidth: 1.2 } });
    graphic.push({ type: "line", z: 1, silent: true, shape: { x1: a, y1: 39, x2: b, y2: 39 }, style: { stroke: "#000", lineWidth: 1.2 } });
    graphic.push({
      type: "text", x: (a + b) / 2, y: 23, z: 1, silent: true,
      style: { text: groupTitles[g], fill: "#000", fontFamily: FONT, fontWeight: "bold", fontSize: 20, align: "center", textAlign: "center", verticalAlign: "middle", textVerticalAlign: "middle" },
    });
  });

  return { animation: false, backgroundColor: "#fff", grid, xAxis, yAxis, series, graphic };
}

export default function App() {
  const ref = useRef<HTMLDivElement>(null);
  useEffect(() => {
    document.body.style.margin = "0";
    const chart = echarts.init(ref.current!, null, { renderer: "svg" });
    chart.setOption(buildOption() as any);
    return () => chart.dispose();
  }, []);
  return <div ref={ref} style={{ width: 1880, height: 646, background: "#fff" }} />;
}
